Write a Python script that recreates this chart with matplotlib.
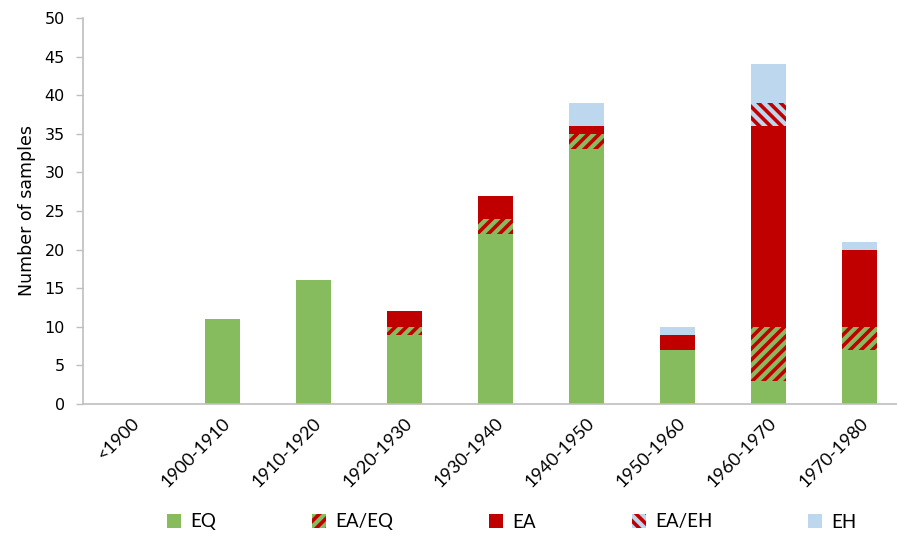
import matplotlib.pyplot as plt
import numpy as np
from matplotlib.patches import Patch

# Data
periods = ['<1900', '1900-1910', '1910-1920', '1920-1930', '1930-1940',
           '1940-1950', '1950-1960', '1960-1970', '1970-1980']
eq = [0, 11, 16, 9, 22, 33, 7, 3, 7]
ea_eq = [0, 0, 0, 1, 2, 2, 0, 7, 3]
ea = [0, 0, 0, 2, 3, 1, 2, 26, 10]
ea_eh = [0, 0, 0, 0, 0, 0, 0, 3, 0]
eh = [0, 0, 0, 0, 0, 3, 1, 5, 1]

green = '#86bc5e'
red = '#c00000'
blue = '#bdd7ee'
grey = '#bfbfbf'

plt.rcParams['hatch.linewidth'] = 2.6

fig = plt.figure(figsize=(8.97, 5.36), dpi=100)
ax = fig.add_axes([83 / 897, 132 / 536, 1 - 83 / 897, 386 / 536])

x = np.arange(len(periods))
w = 0.385

# each segment: values, face colour, hatch colour, hatch
segments = [
    (eq, green, None, None),
    (ea_eq, green, red, '///'),
    (ea, red, None, None),
    (ea_eh, blue, red, '\\\\\\'),
    (eh, blue, None, None),
]

bottom = np.zeros(len(periods))
for vals, fc, hc, hatch in segments:
    vals = np.array(vals, dtype=float)
    if hatch:
        ax.bar(x, vals, w, bottom=bottom, color=fc, edgecolor=hc,
               hatch=hatch, linewidth=0)
    else:
        ax.bar(x, vals, w, bottom=bottom, color=fc, linewidth=0)
    bottom += vals

ax.set_xlim(-0.53, 8.41)
ax.set_ylim(0, 50)
ax.set_yticks(range(0, 51, 5))
ax.set_xticks(x)
ax.set_xticklabels(periods, rotation=45, ha='right', rotation_mode='anchor',
                   family='Lato', fontsize=13)
for lab in ax.get_yticklabels():
    lab.set_family('DejaVu Sans')
    lab.set_fontsize(11.5)

ax.tick_params(axis='x', length=0, pad=8)
ax.tick_params(axis='y', length=5, color=grey, width=1, pad=8)
for s in ['top', 'right']:
    ax.spines[s].set_visible(False)
for s in ['left', 'bottom']:
    ax.spines[s].set_color(grey)
    ax.spines[s].set_linewidth(1.2)

ax.set_ylabel('Number of samples', family='DejaVu Sans', fontsize=12.5, labelpad=6)

handles = [
    Patch(facecolor=green, linewidth=0, label='EQ'),
    Patch(facecolor=green, edgecolor=red, hatch='///', linewidth=0, label='EA/EQ'),
    Patch(facecolor=red, linewidth=0, label='EA'),
    Patch(facecolor=blue, edgecolor=red, hatch='\\\\\\', linewidth=0, label='EA/EH'),
    Patch(facecolor=blue, linewidth=0, label='EH'),
]
fig.legend(handles=handles, loc='center', bbox_to_anchor=(512 / 897, 1 - 522 / 536),
           ncol=5, frameon=False, handlelength=0.75, handleheight=0.75,
           handletextpad=0.5, columnspacing=5.1, prop={'family': 'Lato', 'size': 13.5})

fig.savefig('out.png', dpi=100)
